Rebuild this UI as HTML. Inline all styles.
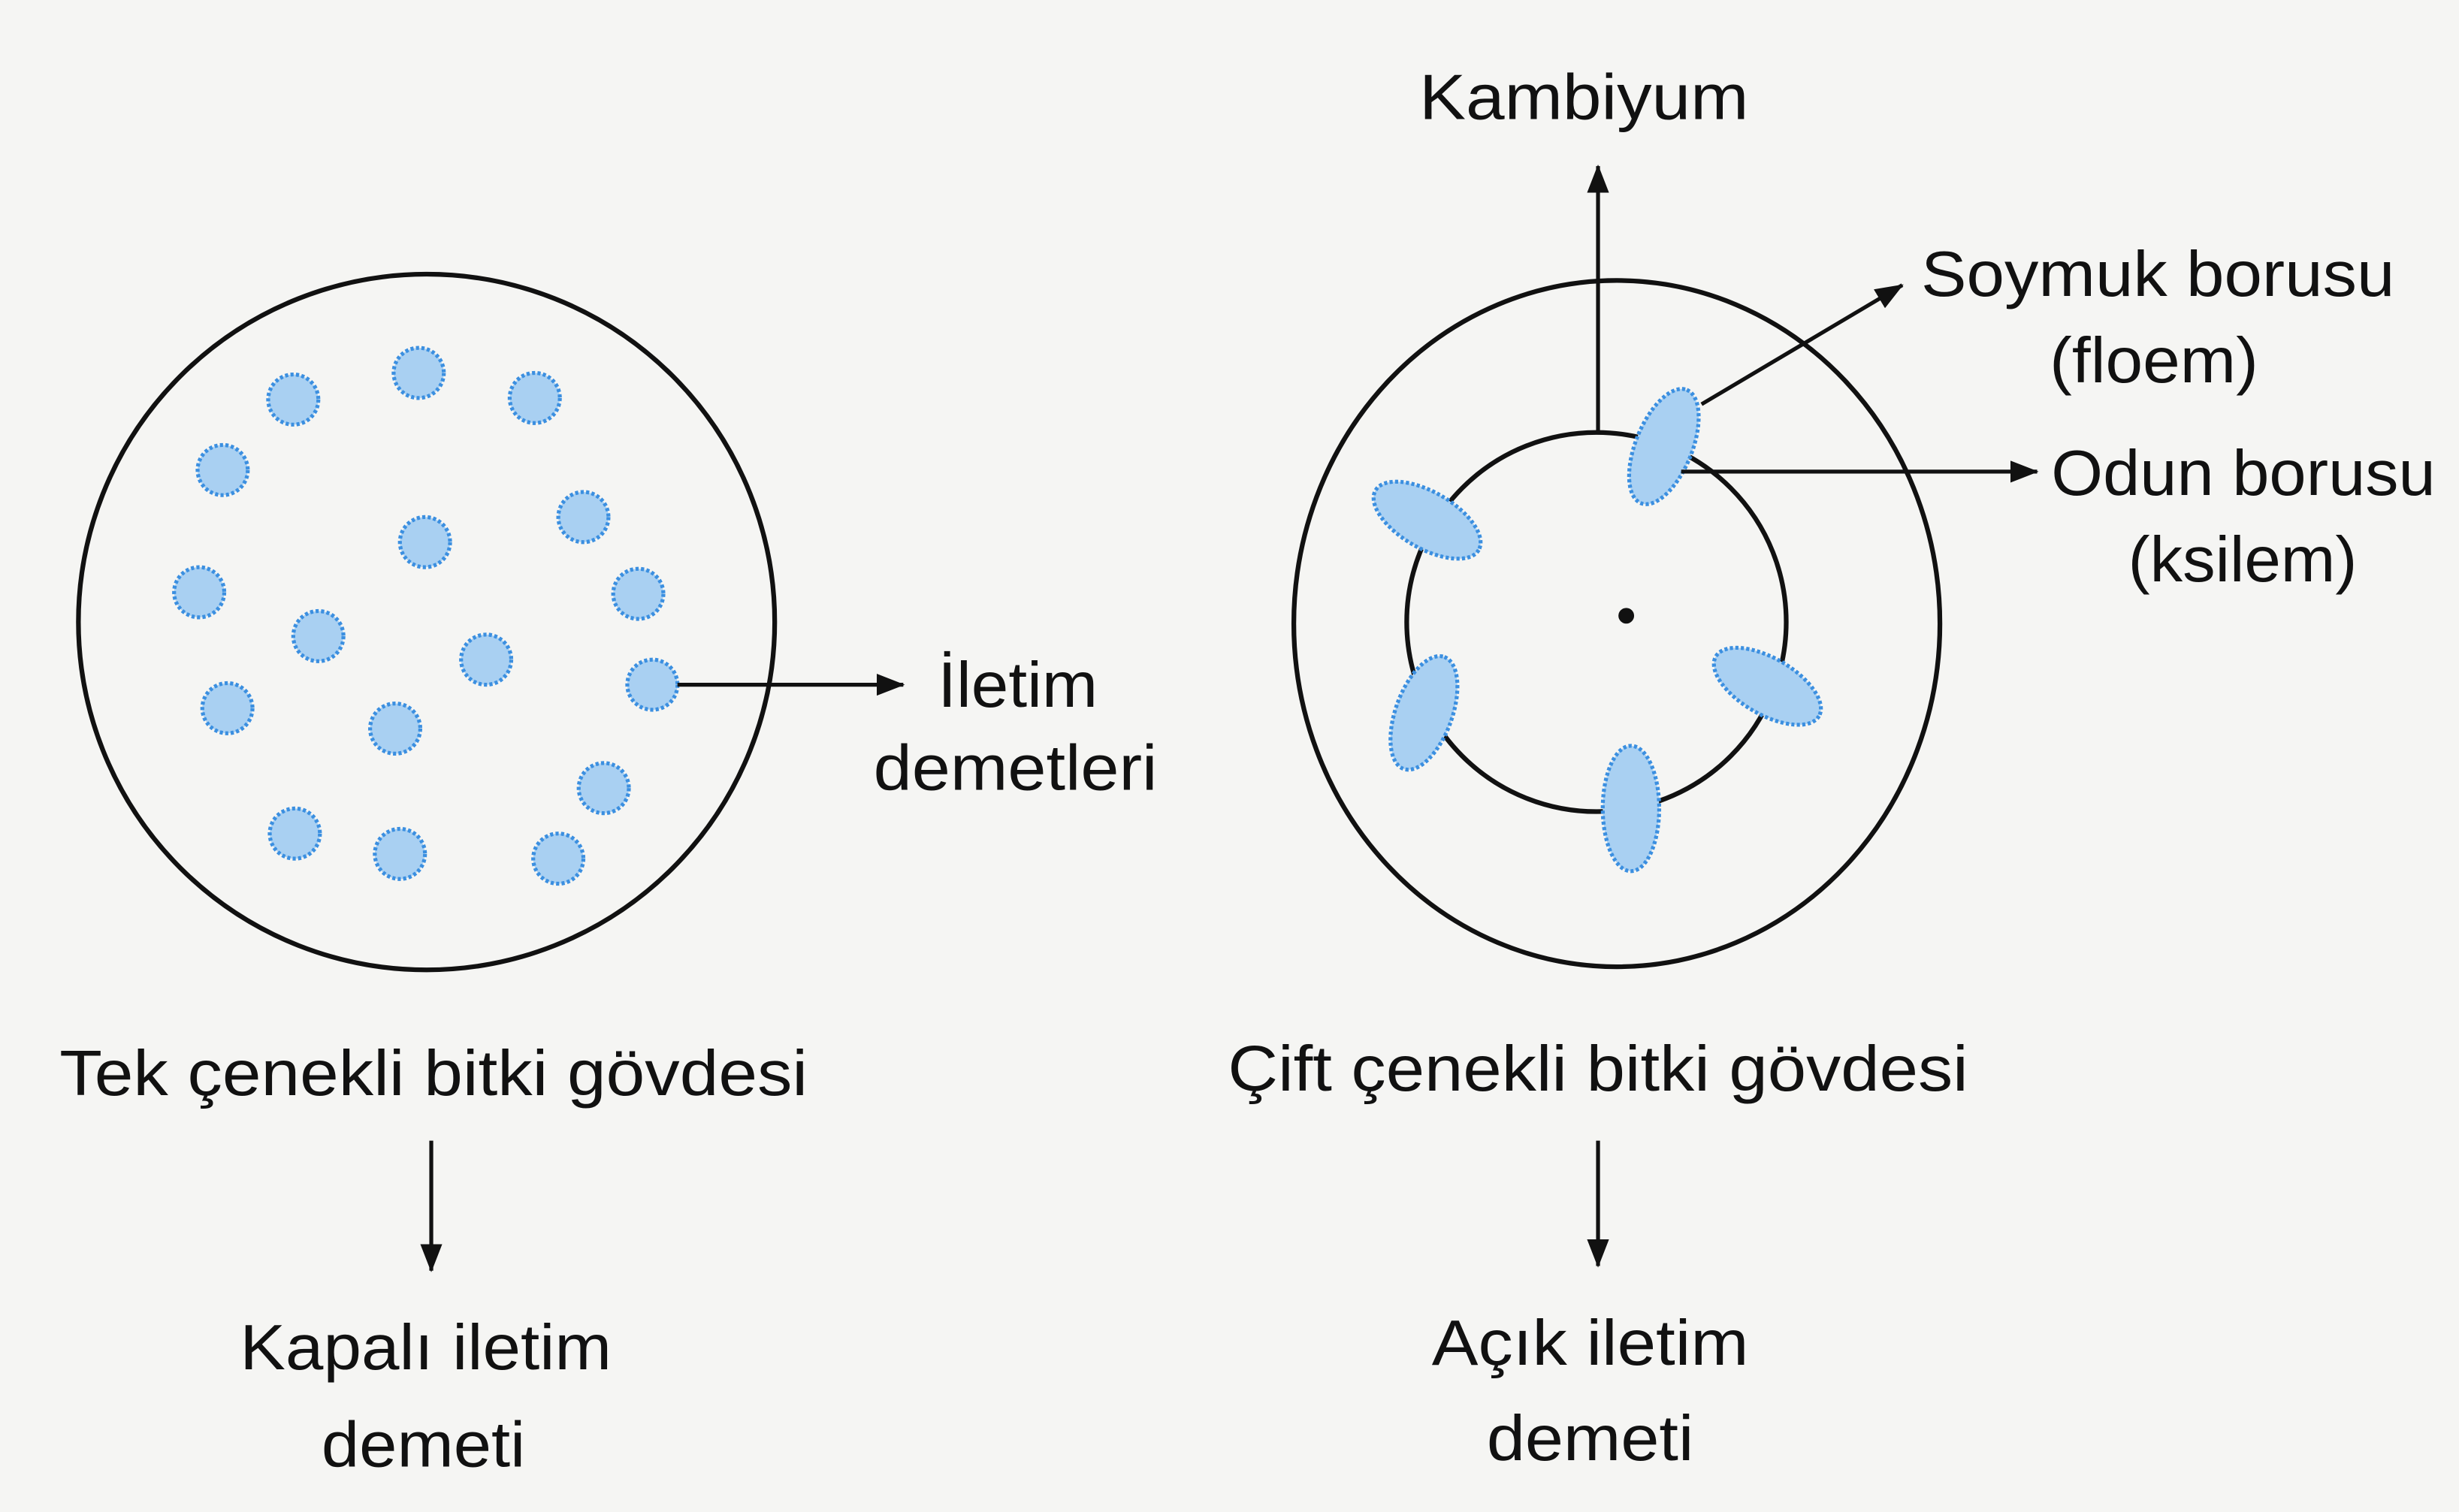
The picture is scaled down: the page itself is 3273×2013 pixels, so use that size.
<!DOCTYPE html>
<html><head><meta charset="utf-8"><style>
html,body{margin:0;padding:0;background:#f5f5f3;}
svg{display:block;}
text{font-family:"Liberation Sans",Arial,sans-serif;fill:#111;font-size:41px;}
</style></head><body>
<svg width="3273" height="2013" viewBox="0 0 1568 965" preserveAspectRatio="none" xmlns="http://www.w3.org/2000/svg">
<defs>
<marker id="ah" markerWidth="18" markerHeight="14" refX="17" refY="7" orient="auto" markerUnits="userSpaceOnUse" viewBox="0 0 18 14">
<path d="M0,0 L18,7 L0,14 Z" fill="#111"/></marker>
</defs>
<rect width="1568" height="965" fill="#f5f5f3"/>
<g stroke="#111" stroke-width="3" fill="none">
<circle cx="272" cy="397" r="222"/>
<ellipse cx="1031" cy="398" rx="206" ry="219"/>
<ellipse cx="1018" cy="397" rx="121" ry="121"/>
</g>
<g fill="#a9d0f2" stroke="#3b8fe0" stroke-width="2.5" stroke-dasharray="2 1.5">
<circle cx="187" cy="255" r="16"/><circle cx="267" cy="238" r="16"/><circle cx="341" cy="254" r="16"/>
<circle cx="142" cy="300" r="16"/><circle cx="372" cy="330" r="16"/><circle cx="271" cy="346" r="16"/>
<circle cx="127" cy="378" r="16"/><circle cx="407" cy="379" r="16"/><circle cx="203" cy="406" r="16"/>
<circle cx="310" cy="421" r="16"/><circle cx="416" cy="437" r="16"/><circle cx="145" cy="452" r="16"/>
<circle cx="252" cy="465" r="16"/><circle cx="385" cy="503" r="16"/><circle cx="188" cy="532" r="16"/>
<circle cx="255" cy="545" r="16"/><circle cx="356" cy="548" r="16"/>
<ellipse cx="1061" cy="285" rx="39" ry="18" transform="rotate(-68 1061 285)"/>
<ellipse cx="910" cy="332" rx="38" ry="18" transform="rotate(30 910 332)"/>
<ellipse cx="908" cy="455" rx="38" ry="18" transform="rotate(-70 908 455)"/>
<ellipse cx="1127" cy="438" rx="38" ry="18" transform="rotate(30 1127 438)"/>
<ellipse cx="1040" cy="516" rx="18" ry="40"/>
</g>
<circle cx="1037" cy="393" r="5" fill="#111"/>
<g stroke="#111" stroke-width="2.5" marker-end="url(#ah)">
<line x1="432" y1="437" x2="576" y2="437"/>
<line x1="1019" y1="277" x2="1019" y2="106"/>
<line x1="1085" y1="258" x2="1213" y2="182"/>
<line x1="1072" y1="301" x2="1299" y2="301"/>
<line x1="275" y1="728" x2="275" y2="811"/>
<line x1="1019" y1="728" x2="1019" y2="808"/>
</g>
<g lengthAdjust="spacingAndGlyphs">
<text x="598" y="451" textLength="102" lengthAdjust="spacingAndGlyphs">İletim</text>
<text x="557" y="504" textLength="181" lengthAdjust="spacingAndGlyphs">demetleri</text>
<text x="905" y="76" textLength="210" lengthAdjust="spacingAndGlyphs">Kambiyum</text>
<text x="1225" y="189" textLength="302" lengthAdjust="spacingAndGlyphs">Soymuk borusu</text>
<text x="1307" y="244" textLength="133" lengthAdjust="spacingAndGlyphs">(floem)</text>
<text x="1308" y="316" textLength="245" lengthAdjust="spacingAndGlyphs">Odun borusu</text>
<text x="1357" y="371" textLength="146" lengthAdjust="spacingAndGlyphs">(ksilem)</text>
<text x="38" y="699" textLength="477" lengthAdjust="spacingAndGlyphs">Tek çenekli bitki gövdesi</text>
<text x="783" y="696" textLength="472" lengthAdjust="spacingAndGlyphs">Çift çenekli bitki gövdesi</text>
<text x="153" y="874" textLength="237" lengthAdjust="spacingAndGlyphs">Kapalı iletim</text>
<text x="205" y="936" textLength="130" lengthAdjust="spacingAndGlyphs">demeti</text>
<text x="913" y="871" textLength="202" lengthAdjust="spacingAndGlyphs">Açık iletim</text>
<text x="948" y="932" textLength="132" lengthAdjust="spacingAndGlyphs">demeti</text>
</g>
</svg>
</body></html>
